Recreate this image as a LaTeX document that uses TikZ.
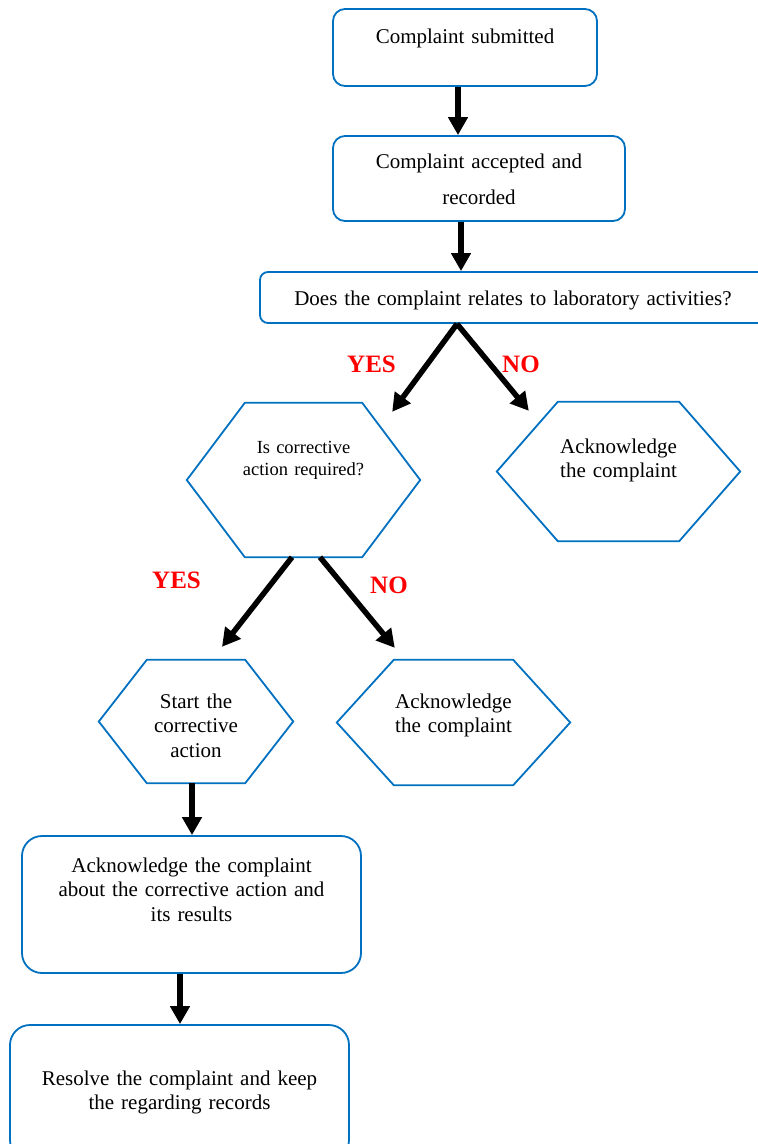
\documentclass[tikz,border=0pt]{standalone}
\usepackage{fontspec}
\setmainfont{Liberation Serif}
\definecolor{boxblue}{RGB}{0,112,192}
\definecolor{answerred}{RGB}{255,0,0}
\usepackage{tikz}
\usetikzlibrary{arrows.meta,calc}
\newcommand{\bodyfont}{\fontsize{21}{24.5}\selectfont}
\newcommand{\smallbodyfont}{\fontsize{18.5}{22}\selectfont}
\newcommand{\hexframe}[2]{%
  \draw[boxblue,line width=1.8pt,line join=miter]
    (#1.west) -- ([xshift=#2pt]#1.north west) -- ([xshift=-#2pt]#1.north east)
    -- (#1.east) -- ([xshift=-#2pt]#1.south east) -- ([xshift=#2pt]#1.south west) -- cycle;}
\tikzset{
  flowbox/.style={rectangle,rounded corners=#1,draw=boxblue,line width=1.8pt,
                  align=center,inner sep=0pt,text height=0pt,font=\bodyfont},
  flowbox/.default=12pt,
  hexnode/.style={rectangle,align=center,inner sep=0pt,text height=0pt,
                  font=\bodyfont},
  flowarrow/.style={-{Triangle[width=19pt,length=18pt]},line width=5.5pt,black},
  answer/.style={text=answerred,font=\fontsize{25}{28}\selectfont\bfseries,
                 inner sep=0pt,anchor=base west},
}

\begin{document}
\begin{tikzpicture}[x=1pt,y=-1pt]
  \useasboundingbox (0,0) rectangle (758,1144);

  \node[flowbox,minimum width=264pt,minimum height=77pt,text width=250pt,
        text depth=9pt] (submitted) at (465,47.5) {Complaint submitted};
  \node[flowbox,minimum width=292pt,minimum height=85pt,text width=280pt,
        text depth=21pt,font=\fontsize{21}{36}\selectfont] (accepted) at (479,178.5)
        {Complaint accepted and\\recorded};
  \node[flowbox=8pt,minimum width=506pt,minimum height=51pt,text width=490pt,
        text height=15pt,text depth=0pt] (question) at (513,297.5)
        {Does the complaint relates to laboratory activities?};

  \node[hexnode,minimum width=233pt,minimum height=154pt,text width=200pt,
        text depth=54pt,font=\smallbodyfont] (corrective) at (303.5,480)
        {Is corrective\\action required?};
  \hexframe{corrective}{58}
  \node[hexnode,minimum width=243pt,minimum height=139pt,text width=200pt,
        text depth=37pt] (ackA) at (618.5,471.5) {Acknowledge\\the complaint};
  \hexframe{ackA}{61}

  \node[hexnode,minimum width=194pt,minimum height=123pt,text width=150pt,
        text depth=27pt] (startaction) at (196,721.5) {Start the\\corrective\\action};
  \hexframe{startaction}{48}
  \node[hexnode,minimum width=233pt,minimum height=125pt,text width=200pt,
        text depth=29pt] (ackB) at (453.5,722.5) {Acknowledge\\the complaint};
  \hexframe{ackB}{57}

  \node[flowbox=20pt,minimum width=339pt,minimum height=137pt,text width=320pt,
        text depth=65pt] (ackresults) at (191.5,904.5)
        {Acknowledge the complaint\\about the corrective action and\\its results};
  \node[flowbox=20pt,minimum width=339pt,minimum height=135pt,text width=320pt,
        text depth=15pt] (resolve) at (179.5,1092.5)
        {Resolve the complaint and keep\\the regarding records};

  \node[answer] (yesA) at (347,372) {YES};
  \node[answer] (noA) at (502,372) {NO};
  \node[answer] (yesB) at (152,588) {YES};
  \node[answer] (noB) at (370,593) {NO};

  \draw[flowarrow] ([xshift=-7pt]submitted.south) -- ([xshift=-7pt]submitted.south |- accepted.north);
  \draw[flowarrow] ([xshift=-18pt]accepted.south) -- ([xshift=-18pt]accepted.south |- question.north);
  \draw[flowarrow] ([xshift=-56pt]question.south) -- ([xshift=-28pt,yshift=-9pt]corrective.north east);
  \draw[flowarrow] ([xshift=-56pt]question.south) -- ([xshift=32pt,yshift=-9pt]ackA.north west);
  \draw[flowarrow] ([xshift=-11.5pt]corrective.south) -- ([xshift=26pt,yshift=13pt]startaction.north);
  \draw[flowarrow] ([xshift=16.5pt]corrective.south) -- ([xshift=58pt,yshift=12pt]ackB.north west);
  \draw[flowarrow] ([xshift=-4pt]startaction.south) -- ([xshift=-4pt]startaction.south |- ackresults.north);
  \draw[flowarrow] ([xshift=-11.5pt]ackresults.south) -- ([xshift=-11.5pt]ackresults.south |- resolve.north);
\end{tikzpicture}
\end{document}
